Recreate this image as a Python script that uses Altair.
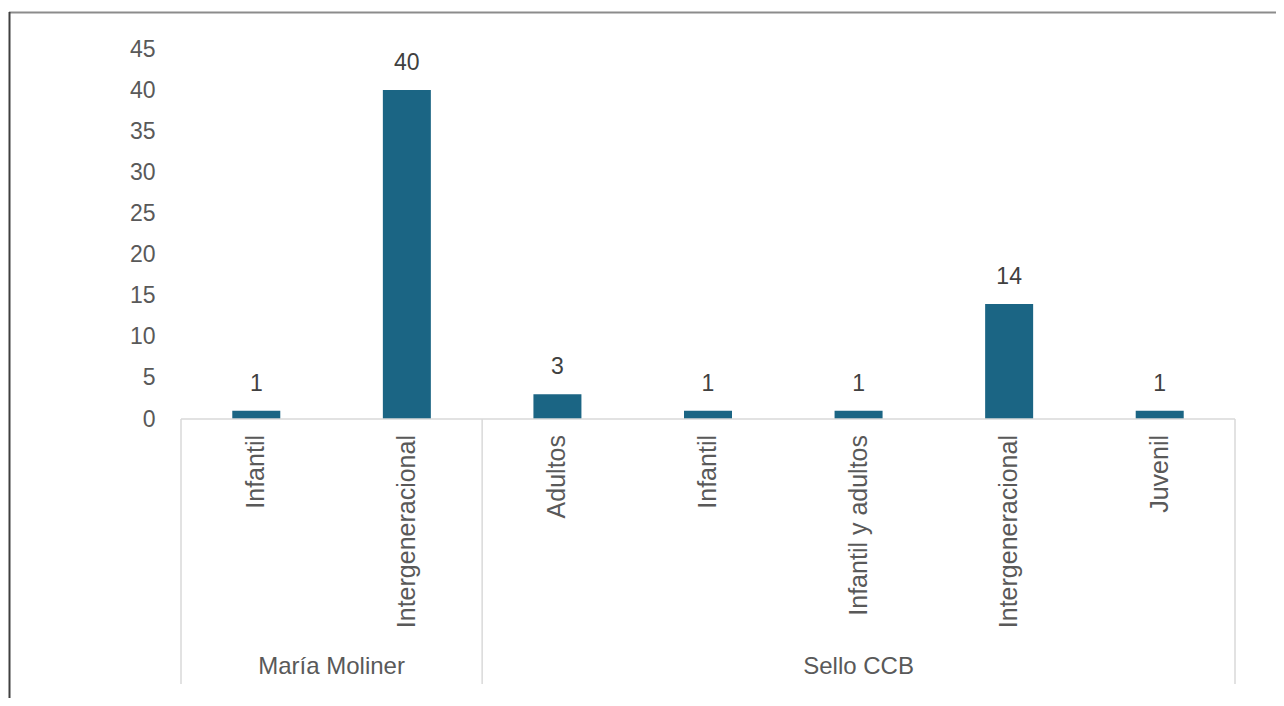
import altair as alt
import pandas as pd

groups = ["María Moliner", "María Moliner", "Sello CCB", "Sello CCB", "Sello CCB", "Sello CCB", "Sello CCB"]
categories = ["Infantil", "Intergeneracional", "Adultos", "Infantil", "Infantil y adultos", "Intergeneracional", "Juvenil"]
values = [1, 40, 3, 1, 1, 14, 1]
y_ticks = [0, 5, 10, 15, 20, 25, 30, 35, 40, 45]
group_names = ["María Moliner", "Sello CCB"]
group_bounds = [0, 2, 7]

n = len(categories)
positions = [i + 0.5 for i in range(n)]
bars_df = pd.DataFrame({"pos": positions, "grp": groups, "val": values})
cat_df = pd.DataFrame({"cpos": positions, "label": categories})
grp_df = pd.DataFrame({"name": group_names,
                       "center": [(group_bounds[i] + group_bounds[i + 1]) / 2 for i in range(len(group_names))]})
sep_df = pd.DataFrame({"b": group_bounds})
frame_df = pd.DataFrame({"k": [0]})

W, H = 1054, 370
FONT = "Liberation Sans"
BAR = "#1b6584"
xs = alt.Scale(domain=[0, n], nice=False, zero=False, padding=0)
ys = alt.Scale(domain=[0, 45], nice=False, padding=0)

bars = alt.Chart(bars_df).mark_bar(size=48, color=BAR, orient="vertical").encode(
    x=alt.X("pos:Q", scale=xs, axis=None),
    y=alt.Y("val:Q", scale=ys, axis=alt.Axis(values=y_ticks, title=None, grid=False, domain=False, ticks=False,
                                             labelPadding=26, labelFontSize=23, labelFont=FONT, labelColor="#595959")))
vlabels = alt.Chart(bars_df).mark_text(dy=-20, baseline="alphabetic", fontSize=23, font=FONT, color="#404040").encode(
    x=alt.X("pos:Q", scale=xs, axis=None), y=alt.Y("val:Q", scale=ys), text="val:Q")
seps = alt.Chart(sep_df).mark_rule(color="#d9d9d9", strokeWidth=1.5).encode(
    x=alt.X("b:Q", scale=xs, axis=None), y=alt.value(H), y2=alt.value(635))
baseline_rule = alt.Chart(sep_df.head(1)).mark_rule(color="#d9d9d9", strokeWidth=1.5).encode(
    x=alt.X("b:Q", scale=xs, axis=None), x2=alt.datum(n), y=alt.value(H))
cat_labels = alt.Chart(cat_df).mark_text(angle=270, align="right", baseline="middle", fontSize=25, font=FONT,
                                         color="#595959").encode(
    x=alt.X("cpos:Q", scale=xs, axis=None), y=alt.value(H + 16), text="label:N")
grp_labels = alt.Chart(grp_df).mark_text(align="center", baseline="middle", fontSize=24, font=FONT,
                                         color="#595959").encode(
    x=alt.X("center:Q", scale=xs, axis=None), y=alt.value(618), text="name:N")
border_top = alt.Chart(frame_df).mark_rule(color="#8c8c8c", strokeWidth=2).encode(
    x=alt.value(-172), x2=alt.value(1110), y=alt.value(-36.5))
border_left = alt.Chart(frame_df).mark_rule(color="#404040", strokeWidth=2).encode(
    x=alt.value(-171.5), y=alt.value(-37), y2=alt.value(660))

chart = alt.layer(bars, vlabels, seps, baseline_rule, cat_labels, grp_labels, border_top, border_left).properties(
    width=W, height=H,
    autosize=alt.AutoSizeParams(type="none"),
    padding={"left": 173, "top": 41, "right": 41, "bottom": 279},
).configure_view(stroke=None)

chart.save("out.html", embed_options={"renderer": "svg", "actions": False})
